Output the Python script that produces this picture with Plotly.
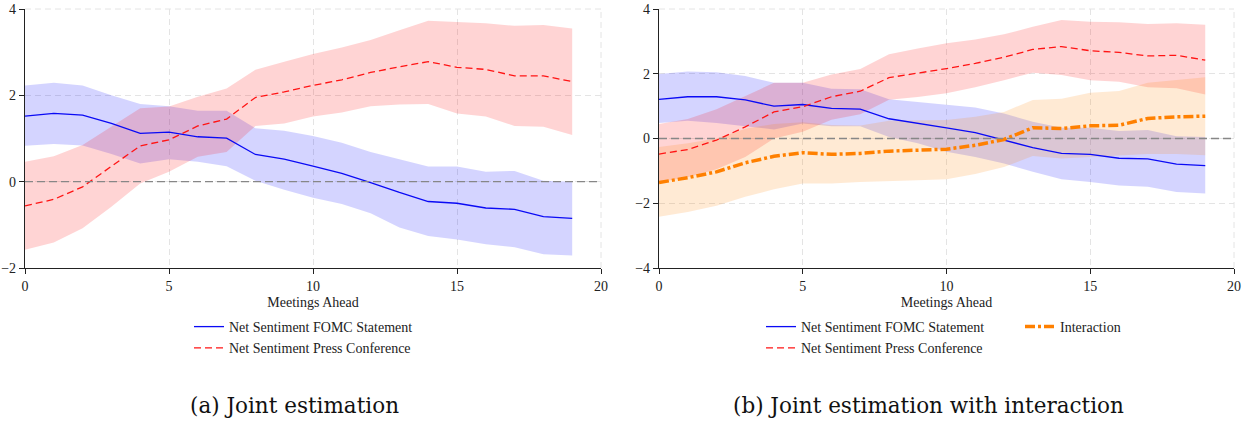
import plotly.graph_objects as go

# ---------------- data ----------------
horizon = list(range(20))

# Panel (a): joint estimation
fomc_a = [1.52, 1.58, 1.54, 1.35, 1.12, 1.15, 1.04, 1.01, 0.63, 0.52, 0.36, 0.19, -0.02, -0.25, -0.46, -0.50, -0.61, -0.64, -0.81, -0.85]
fomc_a_hi = [2.23, 2.29, 2.23, 2.00, 1.80, 1.75, 1.64, 1.64, 1.24, 1.18, 1.06, 0.90, 0.69, 0.52, 0.35, 0.35, 0.23, 0.25, 0.02, 0.00]
fomc_a_lo = [0.83, 0.87, 0.84, 0.64, 0.42, 0.52, 0.46, 0.36, 0.02, -0.19, -0.37, -0.52, -0.73, -1.06, -1.26, -1.34, -1.45, -1.52, -1.68, -1.71]
press_a = [-0.56, -0.41, -0.12, 0.35, 0.83, 0.97, 1.29, 1.45, 1.95, 2.08, 2.23, 2.36, 2.53, 2.66, 2.78, 2.65, 2.60, 2.45, 2.45, 2.32]
press_a_hi = [0.46, 0.59, 0.85, 1.27, 1.70, 1.74, 1.97, 2.16, 2.59, 2.78, 2.96, 3.11, 3.28, 3.51, 3.73, 3.70, 3.67, 3.61, 3.63, 3.55]
press_a_lo = [-1.58, -1.41, -1.08, -0.58, -0.04, 0.23, 0.58, 0.69, 1.29, 1.35, 1.51, 1.60, 1.75, 1.79, 1.80, 1.58, 1.51, 1.29, 1.27, 1.08]

# Panel (b): joint estimation with interaction
fomc_b = [1.21, 1.29, 1.29, 1.19, 1.00, 1.05, 0.93, 0.91, 0.61, 0.48, 0.33, 0.18, -0.05, -0.28, -0.46, -0.49, -0.61, -0.63, -0.79, -0.84]
fomc_b_hi = [1.99, 2.07, 2.05, 1.93, 1.72, 1.72, 1.54, 1.52, 1.21, 1.13, 1.05, 0.96, 0.77, 0.52, 0.33, 0.33, 0.23, 0.26, 0.07, 0.05]
fomc_b_lo = [0.48, 0.55, 0.48, 0.38, 0.28, 0.46, 0.38, 0.38, 0.05, -0.15, -0.41, -0.57, -0.77, -1.03, -1.26, -1.34, -1.45, -1.49, -1.65, -1.70]
press_b = [-0.48, -0.34, -0.05, 0.36, 0.82, 0.98, 1.29, 1.46, 1.88, 2.01, 2.16, 2.32, 2.51, 2.75, 2.84, 2.71, 2.66, 2.55, 2.57, 2.42]
press_b_hi = [0.45, 0.60, 0.90, 1.30, 1.72, 1.72, 1.98, 2.15, 2.60, 2.78, 2.94, 3.06, 3.22, 3.45, 3.66, 3.61, 3.59, 3.54, 3.56, 3.51]
press_b_lo = [-1.35, -1.20, -0.95, -0.57, 0.00, 0.21, 0.58, 0.75, 1.20, 1.28, 1.40, 1.58, 1.80, 2.03, 1.96, 1.80, 1.75, 1.58, 1.55, 1.36]
inter_b = [-1.36, -1.21, -1.03, -0.75, -0.55, -0.44, -0.49, -0.46, -0.39, -0.36, -0.33, -0.21, -0.03, 0.33, 0.31, 0.39, 0.41, 0.62, 0.67, 0.69]
inter_b_hi = [-0.26, -0.15, 0.00, 0.30, 0.45, 0.50, 0.42, 0.40, 0.55, 0.57, 0.57, 0.67, 0.82, 1.19, 1.23, 1.41, 1.47, 1.72, 1.80, 1.89]
inter_b_lo = [-2.42, -2.27, -2.08, -1.80, -1.57, -1.39, -1.39, -1.34, -1.31, -1.29, -1.26, -1.10, -0.88, -0.54, -0.62, -0.57, -0.52, -0.48, -0.48, -0.52]

x_ticks = [0, 5, 10, 15, 20]
y_ticks_a = [-2, 0, 2, 4]
y_ticks_b = [-4, -2, 0, 2, 4]
name_fomc = "Net Sentiment FOMC Statement"
name_press = "Net Sentiment Press Conference"
name_inter = "Interaction"
captions = ["(a) Joint estimation", "(b) Joint estimation with interaction"]
x_title = "Meetings Ahead"

# ---------------- styles ----------------
W, H = 1249, 421
FONT = "Liberation Serif, Times New Roman, serif"
BLUE, RED, ORANGE = "rgb(10,10,245)", "rgb(255,20,20)", "rgb(255,128,0)"
BLUE_F, RED_F, ORANGE_F = "rgba(0,0,255,0.17)", "rgba(255,0,0,0.17)", "rgba(255,128,0,0.17)"
GRID = "#e4e4e4"

fig = go.Figure()


def band(lo, hi, color, xa, ya):
    fig.add_trace(go.Scatter(
        x=horizon + horizon[::-1], y=hi + lo[::-1], fill="toself",
        fillcolor=color, line=dict(width=0), mode="lines",
        showlegend=False, hoverinfo="skip", xaxis=xa, yaxis=ya))


def line(y, color, dash, width, name, xa, ya, legend):
    fig.add_trace(go.Scatter(
        x=horizon, y=y, mode="lines", name=name,
        line=dict(color=color, dash=dash, width=width),
        xaxis=xa, yaxis=ya, legend=legend))


# panel a
band(fomc_a_lo, fomc_a_hi, BLUE_F, "x", "y")
band(press_a_lo, press_a_hi, RED_F, "x", "y")
line(fomc_a, BLUE, "solid", 1.3, name_fomc, "x", "y", "legend")
line(press_a, RED, "7px,4px", 1.3, name_press, "x", "y", "legend")

# panel b
band(fomc_b_lo, fomc_b_hi, BLUE_F, "x2", "y2")
band(press_b_lo, press_b_hi, RED_F, "x2", "y2")
band(inter_b_lo, inter_b_hi, ORANGE_F, "x2", "y2")
line(fomc_b, BLUE, "solid", 1.3, name_fomc, "x2", "y2", "legend2")
line(press_b, RED, "7px,4px", 1.3, name_press, "x2", "y2", "legend2")
line(inter_b, ORANGE, "10px,3px,3px,3px", 3.5, name_inter, "x2", "y2", "legend3")

# frame gridlines at the top and right edges (dashed, like the interior grid)
for xr, yr in (("x domain", "y domain"), ("x2 domain", "y2 domain")):
    fig.add_shape(type="line", xref=xr, yref=yr, x0=0, x1=1, y0=1, y1=1, layer="below",
                  line=dict(color=GRID, width=1, dash="6px,4px"))
    fig.add_shape(type="line", xref=xr, yref=yr, x0=1, x1=1, y0=0, y1=1, layer="below",
                  line=dict(color=GRID, width=1, dash="6px,4px"))

# zero reference lines
for xr, yr in (("x domain", "y"), ("x2 domain", "y2")):
    fig.add_shape(type="line", xref=xr, yref=yr, x0=0, x1=1, y0=0, y1=0,
                  line=dict(color="rgb(135,135,135)", width=1.4, dash="8px,4px"))

y_bot = 1 - 268 / H
y_top = 1 - 9 / H

common_x = dict(range=[0, 20], tickvals=x_ticks, showline=True, linecolor="#222", linewidth=1.3,
                ticks="outside", ticklen=5, tickwidth=1.2, tickcolor="#222", automargin=False,
                showgrid=True, gridcolor=GRID, griddash="6px,4px", gridwidth=1,
                zeroline=False, tickfont=dict(family=FONT, size=14, color="#222"),
                title=dict(text=x_title, font=dict(family=FONT, size=14, color="#222"), standoff=4))
common_y = dict(showline=True, linecolor="#222", linewidth=1.3, automargin=False,
                ticks="outside", ticklen=5, tickwidth=1.2, tickcolor="#222",
                showgrid=True, gridcolor=GRID, griddash="6px,4px", gridwidth=1,
                zeroline=False, tickfont=dict(family=FONT, size=14, color="#222"))

legend_common = dict(bgcolor="rgba(0,0,0,0)", borderwidth=0, xanchor="left", yanchor="top",
                     font=dict(family=FONT, size=14, color="#222"), tracegroupgap=0,
                     itemwidth=30)

fig.update_layout(
    width=W, height=H, margin=dict(l=0, r=0, t=0, b=0, autoexpand=False),
    paper_bgcolor="white", plot_bgcolor="white",
    xaxis=dict(domain=[25 / W, 601 / W], anchor="y", **common_x),
    yaxis=dict(domain=[y_bot, y_top], anchor="x", range=[-2, 4], tickvals=y_ticks_a, **common_y),
    xaxis2=dict(domain=[659 / W, 1234 / W], anchor="y2", **common_x),
    yaxis2=dict(domain=[y_bot, y_top], anchor="x2", range=[-4, 4], tickvals=y_ticks_b, **common_y),
    legend=dict(x=189 / W, y=1 - 311 / H, **legend_common),
    legend2=dict(x=761 / W, y=1 - 311 / H, **legend_common),
    legend3=dict(x=1020 / W, y=1 - 311 / H, **legend_common),
    showlegend=True,
)

for txt, cx in zip(captions, (294 / W, 928 / W)):
    fig.add_annotation(text=txt, x=cx, y=1 - 405 / H, xref="paper", yref="paper",
                       xanchor="center", yanchor="middle", showarrow=False,
                       font=dict(family="DejaVu Serif, serif", size=21.5, color="#111"))

fig.write_html("out.html")
